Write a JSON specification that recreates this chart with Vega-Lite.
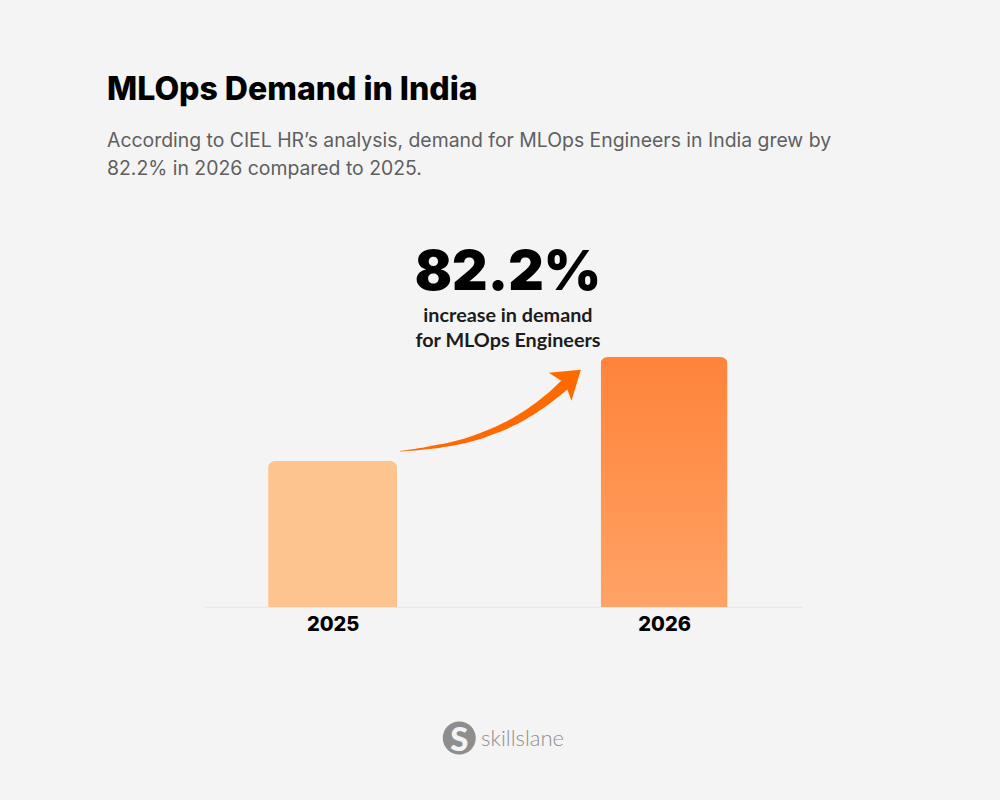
{
"$schema":"https://vega.github.io/schema/vega-lite/v6.json",
"width":598,"height":250,
"autosize":{"type":"none"},
"padding":{"left":204,"top":357,"right":198,"bottom":193},
"background":"#F4F4F4",
"view":{"stroke":null},
"title":{"text":"MLOps Demand in India","subtitle":["According to CIEL HR’s analysis, demand for MLOps Engineers in India grew by","82.2% in 2026 compared to 2025."],"anchor":"start","frame":"group","dx":-97,"offset":67,"font":"Inter","fontSize":32,"fontWeight":800,"color":"#000000","subtitleFont":"Inter","subtitleFontSize":19.4,"subtitleFontWeight":400,"subtitleColor":"#5f5f5f","subtitleLineHeight":28,"subtitlePadding":25,"baseline":"top"},
"datasets":{
"bars":[{"year":2025,"demand":58.4},{"year":2026,"demand":100}],
"arrow":[
{"year":2025.203,"level":62.3,"thickness":0.5},
{"year":2025.225,"level":62.6,"thickness":1},
{"year":2025.250,"level":62.95,"thickness":1.6},
{"year":2025.275,"level":63.4,"thickness":2.2},
{"year":2025.300,"level":63.9,"thickness":2.8},
{"year":2025.325,"level":64.4,"thickness":3.3},
{"year":2025.350,"level":65.0,"thickness":3.8},
{"year":2025.375,"level":65.7,"thickness":4.3},
{"year":2025.400,"level":66.5,"thickness":4.8},
{"year":2025.425,"level":67.5,"thickness":5.2},
{"year":2025.450,"level":68.6,"thickness":5.7},
{"year":2025.475,"level":69.9,"thickness":6.1},
{"year":2025.500,"level":71.2,"thickness":6.5},
{"year":2025.525,"level":72.7,"thickness":6.9},
{"year":2025.550,"level":74.4,"thickness":7.3},
{"year":2025.575,"level":76.3,"thickness":7.8},
{"year":2025.600,"level":78.4,"thickness":8.3},
{"year":2025.625,"level":80.7,"thickness":8.8},
{"year":2025.650,"level":83.2,"thickness":9.3},
{"year":2025.675,"level":85.9,"thickness":9.8},
{"year":2025.700,"level":88.9,"thickness":10.5}],
"head":[{"year":2025.713,"level":91}],
"headline":[{"year":2025.529,"level":126.8,"label":"82.2%"}],
"caption":[{"year":2025.529,"level":114,"label":"increase in demand"},{"year":2025.529,"level":104,"label":"for MLOps Engineers"}],
"logo":[{"year":2025.382,"level":-52.4}],
"logoS":[{"year":2025.382,"level":-57.5,"label":"S"}],
"logoText":[{"year":2025.448,"level":-55.6,"label":"skillslane"}]
},
"encoding":{
"x":{"field":"year","type":"quantitative","scale":{"domain":[2024.612,2026.416],"nice":false,"zero":false,"padding":0},"axis":{"values":[2025,2026],"format":"d","title":null,"grid":false,"ticks":false,"domainColor":"#E9E9E9","domainWidth":1.5,"labelFont":"Inter","labelFontWeight":800,"labelFontSize":20,"labelColor":"#000000","labelPadding":7,"labelOverlap":false}},
"y":{"type":"quantitative","scale":{"domain":[0,100],"nice":false},"axis":null}
},
"layer":[
{"data":{"name":"bars"},"transform":[{"filter":"datum.year==2025"}],"mark":{"type":"bar","orient":"vertical","width":129,"cornerRadiusTopLeft":7,"cornerRadiusTopRight":7,"fill":"#FDC48F"},"encoding":{"y":{"field":"demand","type":"quantitative","scale":{"domain":[0,100],"nice":false},"axis":null}}},
{"data":{"name":"bars"},"transform":[{"filter":"datum.year==2026"}],"mark":{"type":"bar","orient":"vertical","width":127,"cornerRadiusTopLeft":7,"cornerRadiusTopRight":7,"fill":{"gradient":"linear","x1":0,"y1":0,"x2":0,"y2":1,"stops":[{"offset":0,"color":"#FF833A"},{"offset":1,"color":"#FFA366"}]}},"encoding":{"y":{"field":"demand","type":"quantitative","scale":{"domain":[0,100],"nice":false},"axis":null}}},
{"data":{"name":"arrow"},"mark":{"type":"trail","color":"#FF6A00","clip":false},"encoding":{"y":{"field":"level","type":"quantitative"},"size":{"field":"thickness","type":"quantitative","scale":null,"legend":null}}},
{"data":{"name":"head"},"mark":{"type":"point","filled":true,"fill":"#FF6A00","opacity":1,"strokeWidth":0,"size":1300,"angle":51,"shape":"M0,-0.85 L1,0.63 L0,0.3 L-1,0.63 Z"},"encoding":{"y":{"field":"level","type":"quantitative"}}},
{"data":{"name":"headline"},"mark":{"type":"text","font":"Inter","fontWeight":900,"fontSize":55,"color":"#000000","align":"center","baseline":"alphabetic"},"encoding":{"y":{"field":"level","type":"quantitative"},"text":{"field":"label"}}},
{"data":{"name":"caption"},"mark":{"type":"text","font":"Lato","fontWeight":700,"fontSize":19.8,"color":"#1c1c1c","align":"center","baseline":"alphabetic"},"encoding":{"y":{"field":"level","type":"quantitative"},"text":{"field":"label"}}},
{"data":{"name":"logo"},"mark":{"type":"point","filled":true,"fill":"#8E8E8E","opacity":1,"strokeWidth":0,"shape":"circle","size":1090},"encoding":{"y":{"field":"level","type":"quantitative"}}},
{"data":{"name":"logoS"},"mark":{"type":"text","font":"Lato","fontWeight":900,"fontSize":33,"color":"#F4F4F4","align":"center","baseline":"alphabetic"},"encoding":{"y":{"field":"level","type":"quantitative"},"text":{"field":"label"}}},
{"data":{"name":"logoText"},"mark":{"type":"text","font":"Lato","fontWeight":300,"fontSize":22,"color":"#8E8E8E","align":"left","baseline":"alphabetic"},"encoding":{"y":{"field":"level","type":"quantitative"},"text":{"field":"label"}}}
]
}
